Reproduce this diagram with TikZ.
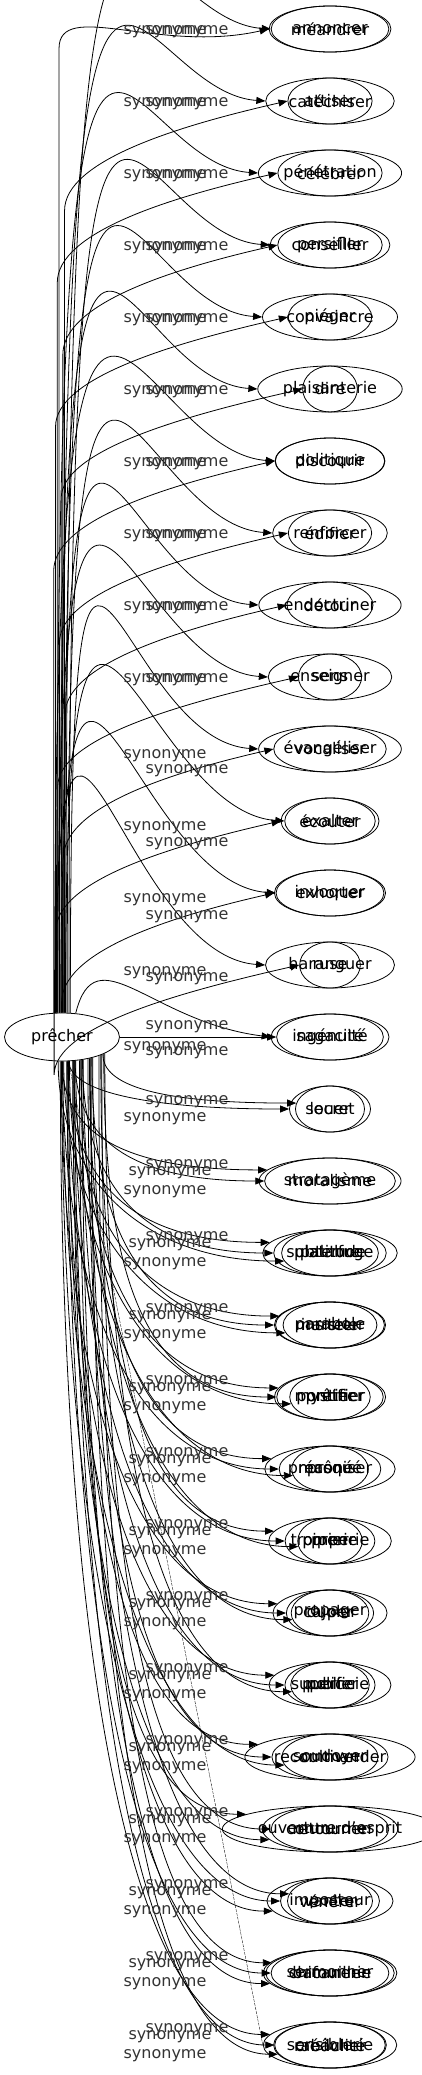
\documentclass[tikz,border=0pt]{standalone}
\usepackage{fontspec}
\setmainfont{DejaVu Sans}
\usepackage{xcolor}
\usepackage{tikz}
\usetikzlibrary{shapes.geometric,arrows.meta}
\definecolor{InkGrey}{HTML}{333333}

\begin{document}
\begin{tikzpicture}[x=1pt, y=-1pt, line width=0.8pt,
    word/.style={ellipse, draw, inner xsep=4pt, inner ysep=2pt,
      minimum height=46pt, font=\fontsize{16}{19}\selectfont},
    lbl/.style={inner sep=0pt, text=InkGrey, font=\fontsize{16}{19}\selectfont},
    syn/.style={-{Triangle[length=9pt,width=7pt]}}]
  \useasboundingbox (0,0) rectangle (422,2075);

  % root
  \node[word, minimum width=115pt, minimum height=48pt] (prech) at (62,1037) {prêcher};

  % synonyms, one row every 72pt, and their edges
  \foreach \r/\j/\w in {1/1/annoncer, 1/2/méandrer,
      2/1/catéchiser, 2/2/attiser, 3/1/pénétration, 3/2/célébrer,
      4/1/conseiller, 4/2/persifler, 5/1/convaincre, 5/2/piéger,
      6/1/plaisanterie, 6/2/dire, 7/1/discourir, 7/2/politique,
      8/1/renforcer, 8/2/édifier, 9/1/endoctriner, 9/2/détour,
      10/1/enseigner, 10/2/sens, 11/1/évangéliser, 11/2/vocaliser,
      12/1/exalter, 12/2/écouter, 13/1/exhorter, 13/2/invoquer,
      14/1/haranguer, 14/2/ruse, 15/1/sagacité, 15/2/ingénuité,
      16/1/louer, 16/2/secret, 17/1/stratagème, 17/2/moralisme,
      18/1/subterfuge, 18/2/platitude, 18/3/palabre,
      19/1/marteler, 19/2/parabole, 19/3/insister,
      20/1/mystifier, 20/2/pontifier, 20/3/prêter,
      21/1/préconiser, 21/2/masqué, 21/3/prôné,
      22/1/tromperie, 22/2/piperie, 22/3/prier,
      23/1/propager, 23/2/cajoler, 23/3/duper,
      24/1/superficie, 24/2/publier, 24/3/police,
      25/1/recommander, 25/2/soudoyer, 25/3/cultiver,
      26/1/ouverture d'esprit, 26/2/retourner, 26/3/contourner,
      27/1/vanter, 27/2/vénérer, 27/3/imposteur,
      28/1/chicanerie, 28/2/bafouiller, 28/3/sermonner,
      29/1/sensiblerie, 29/2/crédulité, 29/3/rabâcher} {
    \pgfmathsetmacro\yy{29+72*(\r-1)}
    \node[word] (w\r-\j) at (330,\yy) {\w};
    \ifnum\r<15
      \ifnum\j=1
        \pgfmathtruncatemacro\aa{70+mod(\r*11,40)}
        \pgfmathsetmacro\up{\yy-1463}
        \draw[syn] (prech.\aa) .. controls +(0,\up) and +(-150,-10) .. (w\r-\j.west);
      \else
        \pgfmathtruncatemacro\aa{80+mod(\r*17,30)}
        \pgfmathsetmacro\up{\yy+(\r==1 ? 20 : 110)-1013}
        \draw[syn] (prech.\aa) -- +(0,\up) .. controls +(0,-50) and +(-110,25) .. (w\r-\j.west);
      \fi
    \else
      \ifnum\r=15
        \ifnum\j=1
          \draw[syn] (prech.east) -- (w\r-\j.west);
        \else
          \draw[syn] (prech.60) .. controls +(20,-80) and +(-120,-15) .. (w\r-\j.west);
        \fi
      \else
        \pgfmathtruncatemacro\aa{-100+mod(\r*13+\j*29,80)}
        \pgfmathtruncatemacro\ea{180+10*(\j-2)}
        \pgfmathsetmacro\dn{0.6*(\yy-1058)}
        \draw[syn] (prech.\aa) .. controls +(0,\dn) and +(-140,0) .. (w\r-\j.\ea);
      \fi
    \fi
  }
  \draw[line width=0.35pt, dash pattern=on 3pt off 1pt] (prech.-75) -- (w29-1.west);

  % edge labels
  \foreach \r in {1,...,10} {
    \pgfmathsetmacro\yy{32+72*(\r-1)}
    \node[lbl] (s\r-a) at (165,\yy) {synonyme};
    \node[lbl] (s\r-b) at (187,\yy) {synonyme};
  }
  \foreach \r/\da/\db in {11/7/22, 12/7/23, 13/7/24, 14/8/14} {
    \pgfmathsetmacro\yy{29+72*(\r-1)}
    \node[lbl] (s\r-a) at (165,\yy+\da) {synonyme};
    \node[lbl] (s\r-b) at (187,\yy+\db) {synonyme};
  }
  \node[lbl] (s15-a) at (187,1027) {synonyme};
  \node[lbl] (s15-b) at (165,1048) {synonyme};
  \node[lbl] (s15-c) at (187,1053) {synonyme};
  \node[lbl] (s16-a) at (187,1102) {synonyme};
  \node[lbl] (s16-b) at (165,1119) {synonyme};
  \foreach \r in {17,...,29} {
    \pgfmathsetmacro\yy{29+72*(\r-1)}
    \node[lbl] (s\r-a) at (187,\yy-15) {synonyme};
    \node[lbl] (s\r-b) at (170,\yy-8) {synonyme};
    \node[lbl] (s\r-c) at (165,\yy+11) {synonyme};
  }
\end{tikzpicture}
\end{document}
